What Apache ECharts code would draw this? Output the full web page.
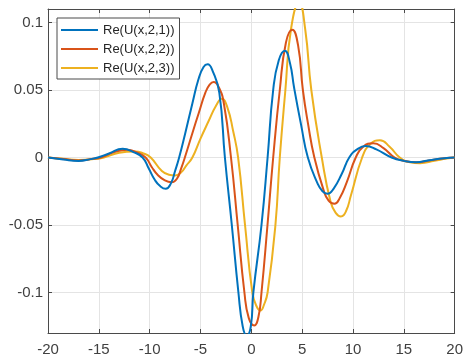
<!DOCTYPE html>
<html>
<head>
<meta charset="utf-8">
<script src="https://cdn.jsdelivr.net/npm/echarts@6/dist/echarts.min.js"></script>
<style>
  html, body { margin: 0; padding: 0; background: #fff; }
  #chart { width: 466px; height: 360px; }
</style>
</head>
<body>
<div id="chart"></div>
<script>
// values, [x, Re(U)]
const seriesNames = ['Re(U(x,2,1))', 'Re(U(x,2,2))', 'Re(U(x,2,3))'];
const seriesColors = ['#0072BD', '#D95319', '#EDB120'];

const reU1 = [
  [-20, 0], [-18.5, -0.0015], [-17, -0.0025], [-15.8, -0.0012], [-15.1, 0], [-14, 0.003],
  [-12.65, 0.0064], [-11.6, 0.004], [-10.7, 0], [-10.1, -0.008], [-9.5, -0.0165], [-9.0, -0.021],
  [-8.42, -0.0232], [-7.9, -0.019], [-7.5, -0.01], [-7.1, 0], [-6.5, 0.018], [-5.8, 0.04],
  [-5.2, 0.058], [-4.7, 0.067], [-4.3, 0.069], [-3.8, 0.064], [-3.15, 0.048], [-2.6, 0],
  [-1.92, -0.05], [-1.27, -0.1], [-0.85, -0.125], [-0.46, -0.132], [-0.05, -0.125], [0.2, -0.1],
  [1.0, -0.05], [1.6, 0], [2.15, 0.05], [2.7, 0.072], [3.3, 0.079], [3.8, 0.07], [4.2, 0.052],
  [4.9, 0.024], [5.56, 0], [6.5, -0.019], [7.0, -0.025], [7.5, -0.0269], [8.1, -0.023],
  [8.9, -0.012], [9.63, 0], [10.4, 0.006], [11.25, 0.0085], [12.3, 0.006], [13.8, 0], [15, -0.0025],
  [16.2, -0.0035], [17.5, -0.002], [19, -0.0005], [20, 0]
];

const reU2 = [
  [-20, 0], [-18.5, -0.0012], [-17, -0.0022], [-15.6, -0.001], [-14.8, 0], [-13.5, 0.004],
  [-12.2, 0.0057], [-11.2, 0.0035], [-10.4, 0], [-9.8, -0.007], [-9.2, -0.013], [-8.5, -0.017],
  [-7.83, -0.0183], [-7.3, -0.0155], [-6.9, -0.008], [-6.54, 0], [-5.8, 0.018], [-5.17, 0.033],
  [-4.52, 0.048], [-4.1, 0.054], [-3.7, 0.056], [-3.2, 0.052], [-2.7, 0.04], [-2.0, 0],
  [-1.34, -0.05], [-0.68, -0.1], [-0.25, -0.119], [0.29, -0.1244], [0.7, -0.118], [1.0, -0.1],
  [1.59, -0.05], [2.15, 0], [2.8, 0.05], [3.4, 0.085], [4.03, 0.0946], [4.6, 0.083], [5.07, 0.05],
  [5.6, 0.024], [6.2, 0], [7.1, -0.024], [7.6, -0.032], [8.17, -0.0343], [8.7, -0.03], [9.4, -0.018],
  [10.27, 0], [11.0, 0.008], [12.0, 0.0105], [13.0, 0.007], [14.1, 0], [15.2, -0.0028],
  [16.2, -0.0036], [17.5, -0.0022], [19, -0.0006], [20, 0]
];

const reU3 = [
  [-20, 0], [-18.5, -0.001], [-17, -0.0018], [-15.5, -0.0012], [-14.5, 0], [-13, 0.0035],
  [-11.5, 0.0045], [-10.6, 0.003], [-9.9, 0], [-8.8, -0.01], [-8.1, -0.0128], [-7.5, -0.0133],
  [-6.9, -0.011], [-6.4, -0.006], [-5.8, 0], [-5.0, 0.014], [-4.2, 0.027], [-3.5, 0.038],
  [-2.9, 0.0435], [-2.35, 0.037], [-1.8, 0.02], [-1.3, 0], [-0.62, -0.05], [0.1, -0.1],
  [0.5, -0.11], [0.9, -0.1133], [1.25, -0.109], [1.6, -0.1], [2.37, -0.05], [2.8, 0], [3.35, 0.05],
  [3.9, 0.095], [4.7, 0.115], [5.3, 0.095], [5.9, 0.05], [6.93, 0], [7.8, -0.033], [8.3, -0.041],
  [8.8, -0.0437], [9.3, -0.04], [9.8, -0.028], [10.9, 0], [11.7, 0.01], [12.65, 0.0128],
  [13.6, 0.008], [14.6, 0], [15.6, -0.0035], [16.6, -0.0042], [18, -0.0025], [19.2, -0.0008], [20, 0]
];

const xRange = [-20, 20];
const yRange = [-0.13, 0.11];

const chart = echarts.init(document.getElementById('chart'), null, { renderer: 'canvas' });

const boxLine = { show: true, onZero: false, lineStyle: { color: '#4a4a4a', width: 1 } };
const innerTick = { show: true, inside: true, length: 4, lineStyle: { color: '#4a4a4a' } };
const labelFont = { color: '#404040', fontSize: 15, fontFamily: 'Liberation Sans, Arial, sans-serif' };

chart.setOption({
  backgroundColor: '#fff',
  animation: false,
  grid: { left: 48, right: 8, top: 9, bottom: 27 },
  legend: {
    orient: 'vertical',
    left: 57,
    top: 18,
    padding: [5, 5, 4, 4],
    icon: 'rect',
    itemWidth: 37,
    itemHeight: 2,
    itemGap: 5,
    backgroundColor: '#fff',
    borderColor: '#4a4a4a',
    borderWidth: 1,
    borderRadius: 0,
    textStyle: { color: '#262626', fontSize: 13, lineHeight: 14, fontFamily: 'Liberation Sans, Arial, sans-serif' },
    data: seriesNames
  },
  xAxis: [{
    type: 'value',
    min: xRange[0],
    max: xRange[1],
    interval: 5,
    position: 'bottom',
    axisLine: boxLine,
    axisTick: innerTick,
    axisLabel: { ...labelFont, margin: 9 },
    splitLine: { show: true, lineStyle: { color: '#e4e4e4' } }
  }, {
    type: 'value',
    min: xRange[0],
    max: xRange[1],
    interval: 5,
    position: 'top',
    axisLine: boxLine,
    axisTick: innerTick,
    axisLabel: { show: false },
    splitLine: { show: false }
  }],
  yAxis: [{
    type: 'value',
    min: yRange[0],
    max: yRange[1],
    splitNumber: 5,
    position: 'left',
    axisLine: boxLine,
    axisTick: innerTick,
    axisLabel: { ...labelFont, margin: 5, showMinLabel: false, showMaxLabel: false },
    splitLine: { show: true, lineStyle: { color: '#e4e4e4' } }
  }, {
    type: 'value',
    min: yRange[0],
    max: yRange[1],
    splitNumber: 5,
    position: 'right',
    axisLine: boxLine,
    axisTick: innerTick,
    axisLabel: { show: false },
    splitLine: { show: false }
  }],
  series: [reU1, reU2, reU3].map((data, i) => ({
    type: 'line',
    name: seriesNames[i],
    data: data,
    xAxisIndex: 0,
    yAxisIndex: 0,
    smooth: 0.5,
    symbol: 'none',
    clip: true,
    color: seriesColors[i],
    lineStyle: { width: 2, color: seriesColors[i] },
    z: 3 - i
  }))
});
</script>
</body>
</html>
